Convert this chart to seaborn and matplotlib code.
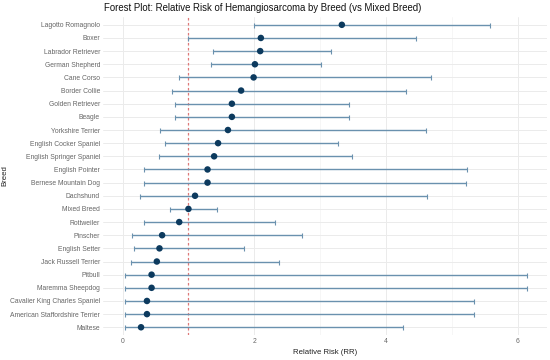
import numpy as np
import pandas as pd
import matplotlib
matplotlib.use("Agg")
import matplotlib.pyplot as plt
import seaborn as sns

breeds = [
    "Lagotto Romagnolo", "Boxer", "Labrador Retriever", "German Shepherd",
    "Cane Corso", "Border Collie", "Golden Retriever", "Beagle",
    "Yorkshire Terrier", "English Cocker Spaniel", "English Springer Spaniel",
    "English Pointer", "Bernese Mountain Dog", "Dachshund", "Mixed Breed",
    "Rottweiler", "Pinscher", "English Setter", "Jack Russell Terrier",
    "Pitbull", "Maremma Sheepdog", "Cavalier King Charles Spaniel",
    "American Staffordshire Terrier", "Maltese",
]
rr = [3.33, 2.10, 2.09, 2.01, 1.99, 1.80, 1.66, 1.66, 1.60, 1.45, 1.39,
      1.29, 1.29, 1.10, 1.00, 0.86, 0.60, 0.56, 0.52, 0.44, 0.44, 0.37,
      0.37, 0.28]
ci_low = [2.00, 1.00, 1.37, 1.34, 0.85, 0.75, 0.80, 0.80, 0.57, 0.64, 0.56,
          0.32, 0.32, 0.27, 0.72, 0.32, 0.15, 0.18, 0.12, 0.04, 0.04, 0.03,
          0.03, 0.03]
ci_high = [5.58, 4.45, 3.17, 3.01, 4.68, 4.31, 3.44, 3.44, 4.61, 3.27, 3.49,
           5.23, 5.22, 4.62, 1.43, 2.31, 2.72, 1.85, 2.38, 6.14, 6.14, 5.34,
           5.34, 4.26]

df = pd.DataFrame({"Breed": breeds, "RR": rr, "low": ci_low, "high": ci_high})
df["pos"] = np.arange(len(df))

sns.set_theme(style="whitegrid")
plt.rcParams["font.family"] = ["Liberation Sans", "DejaVu Sans"]

fig, ax = plt.subplots(figsize=(5.5, 3.6), dpi=100)
fig.subplots_adjust(left=0.187, right=0.995, top=0.953, bottom=0.069)

# reference line at RR = 1
ax.axvline(1, color="#e07878", linestyle=(0, (2, 2)), linewidth=0.9, zorder=1)

# confidence intervals
ax.errorbar(df["RR"], df["pos"],
            xerr=[df["RR"] - df["low"], df["high"] - df["RR"]],
            fmt="none", ecolor="#6a91ae", elinewidth=1.0, capsize=1.8,
            capthick=0.8, zorder=2)

sns.scatterplot(data=df, x="RR", y="pos", color="#0c3a5e", s=22,
                edgecolor="none", ax=ax, zorder=3)

ax.set_yticks(df["pos"])
ax.set_yticklabels(df["Breed"])
ax.set_ylim(len(df) - 0.4, -0.6)
ax.set_xlim(-0.3, 6.45)
ax.set_xticks([0, 2, 4, 6])
ax.set_xticks([1, 3, 5], minor=True)

ax.set_facecolor("white")
for s in ax.spines.values():
    s.set_visible(False)
ax.grid(which="major", color="#ebebeb", linewidth=0.7)
ax.grid(which="minor", axis="x", color="#f3f3f3", linewidth=0.5)
ax.tick_params(axis="both", which="both", length=0, labelsize=4.85,
               labelcolor="#666666", pad=2)

ax.set_xlabel("Relative Risk (RR)", fontsize=5.6, color="#222222", labelpad=3)
ax.set_ylabel("Breed", fontsize=5.6, color="#222222")
ax.yaxis.set_label_coords(-0.213, 0.5)
ax.set_title("Forest Plot: Relative Risk of Hemangiosarcoma by Breed (vs Mixed Breed)",
             fontsize=6.9, color="#111111", pad=4, x=0.36)

fig.savefig("out.png", dpi=100)
